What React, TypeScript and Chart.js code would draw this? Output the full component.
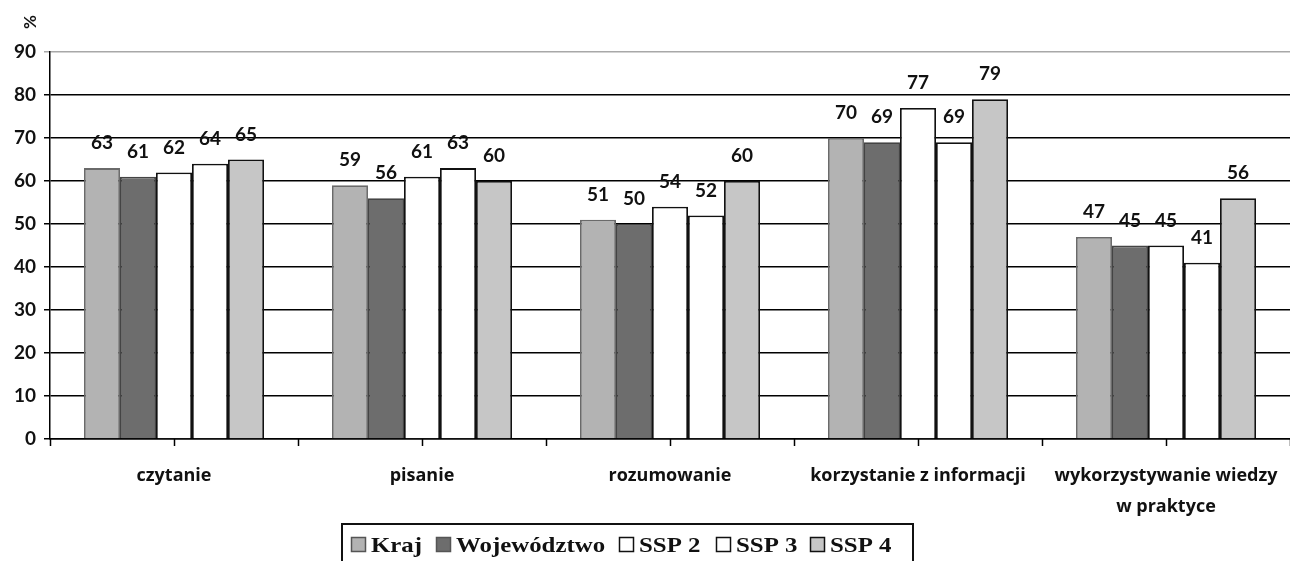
import React, { useEffect, useRef } from "react";
import { Chart, registerables } from "chart.js";

Chart.register(...registerables);

const categories: (string | string[])[] = [
  "czytanie",
  "pisanie",
  "rozumowanie",
  "korzystanie z informacji",
  ["wykorzystywanie wiedzy", "w praktyce"],
];
const seriesNames = ["Kraj", "Województwo", "SSP 2", "SSP 3", "SSP 4"];
const kraj = [63, 59, 51, 70, 47];
const wojewodztwo = [61, 56, 50, 69, 45];
const ssp2 = [62, 61, 54, 77, 45];
const ssp3 = [64, 63, 52, 69, 41];
const ssp4 = [65, 60, 60, 79, 56];
const yTicks = [0, 10, 20, 30, 40, 50, 60, 70, 80, 90];

const fills = ["#b3b3b3", "#6d6d6d", "#ffffff", "#ffffff", "#c6c6c6"];
const borders = ["#6a6a6a", "#444444", "#111111", "#111111", "#111111"];

const labelPlugin = {
  id: "valueLabels",
  afterDatasetsDraw(chart: any) {
    const ctx = chart.ctx;
    ctx.save();
    ctx.font = "bold 19px Lato";
    ctx.fillStyle = "#111";
    ctx.textAlign = "center";
    ctx.textBaseline = "middle";
    chart.data.datasets.forEach((ds: any, di: number) => {
      const meta = chart.getDatasetMeta(di);
      meta.data.forEach((el: any, i: number) => {
        ctx.fillText(String(ds.data[i]), el.x, el.y - 25);
      });
    });
    ctx.restore();
  },
};

const extrasPlugin = {
  id: "extras",
  afterDraw(chart: any) {
    const ctx = chart.ctx;
    const area = chart.chartArea;
    ctx.save();
    // x-axis tick marks at category centres and boundaries
    const n = chart.data.labels.length;
    const w = (area.right - area.left) / n;
    ctx.strokeStyle = "#000";
    ctx.lineWidth = 1.5;
    for (let i = 0; i <= 2 * n; i++) {
      const x = Math.round(area.left + (i * w) / 2) + 0.5;
      ctx.beginPath();
      ctx.moveTo(x, area.bottom);
      ctx.lineTo(x, area.bottom + 7);
      ctx.stroke();
    }
    // "%" axis title
    ctx.save();
    ctx.translate(31, 22);
    ctx.rotate(-Math.PI / 2);
    ctx.font = "bold 17px Lato";
    ctx.fillStyle = "#111";
    ctx.textAlign = "center";
    ctx.textBaseline = "middle";
    ctx.fillText("%", 0, 0);
    ctx.restore();
    // legend
    ctx.strokeStyle = "#111";
    ctx.lineWidth = 2;
    ctx.strokeRect(342, 524, 571, 50);
    const itemX = [351, 436, 619, 716, 810];
    ctx.font = "bold 22px 'Liberation Serif'";
    ctx.textBaseline = "alphabetic";
    ctx.textAlign = "left";
    seriesNames.forEach((name, i) => {
      const sx = itemX[i];
      ctx.fillStyle = fills[i];
      ctx.fillRect(sx, 537, 14, 14);
      ctx.strokeStyle = i < 2 ? "#555" : "#111";
      ctx.lineWidth = 1.5;
      ctx.strokeRect(sx + 0.5, 537.5, 14, 14);
      ctx.fillStyle = "#111";
      ctx.save();
      ctx.translate(sx + 20, 552);
      ctx.scale(1.13, 1);
      ctx.fillText(name, 0, 0);
      ctx.restore();
    });
    ctx.restore();
  },
};

export default function App() {
  const ref = useRef<HTMLCanvasElement | null>(null);
  useEffect(() => {
    if (!ref.current) return;
    const data = [kraj, wojewodztwo, ssp2, ssp3, ssp4];
    const chart = new Chart(ref.current, {
      type: "bar",
      data: {
        labels: categories,
        datasets: seriesNames.map((name, i) => ({
          label: name,
          data: data[i],
          backgroundColor: fills[i],
          borderColor: borders[i],
          borderWidth: 1.8,
          barPercentage: 1,
          categoryPercentage: 0.726,
        })),
      },
      options: {
        responsive: false,
        animation: false,
        devicePixelRatio: 1,
        layout: { padding: { top: 52, left: 0, right: 0, bottom: 0 } },
        plugins: {
          legend: { display: false },
          tooltip: { enabled: false },
          title: { display: false },
        },
        scales: {
          x: {
            offset: true,
            grid: { display: false, drawTicks: false },
            border: { display: true, color: "#000", width: 1.5 },
            ticks: {
              autoSkip: false,
              maxRotation: 0,
              minRotation: 0,
              padding: 22,
              color: "#111",
              font: { family: "Open Sans", weight: "bold", size: 18, lineHeight: 1.7 },
            },
            afterFit(scale: any) {
              scale.height = 561 - 439;
              scale.paddingLeft = 0;
              scale.paddingRight = 0;
            },
          },
          y: {
            min: 0,
            max: 90,
            afterBuildTicks(scale: any) {
              scale.ticks = yTicks.map((v) => ({ value: v }));
            },
            grid: {
              color: (c: any) => (c.tick && c.tick.value === 90 ? "#a8a8a8" : "#000"),
              lineWidth: 1.5,
              drawTicks: true,
              tickLength: 6,
            },
            border: { display: true, color: "#000", width: 1.5 },
            ticks: {
              padding: 8,
              color: "#111",
              font: { family: "Lato", weight: "bold", size: 19 },
            },
            afterFit(scale: any) {
              scale.width = 50;
            },
          },
        },
      },
      plugins: [labelPlugin, extrasPlugin],
    });
    return () => chart.destroy();
  }, []);
  return (
    <div style={{ position: "absolute", left: 0, top: 0, width: 1290, height: 561, background: "#fff" }}>
      <canvas ref={ref} width={1290} height={561} />
    </div>
  );
}
